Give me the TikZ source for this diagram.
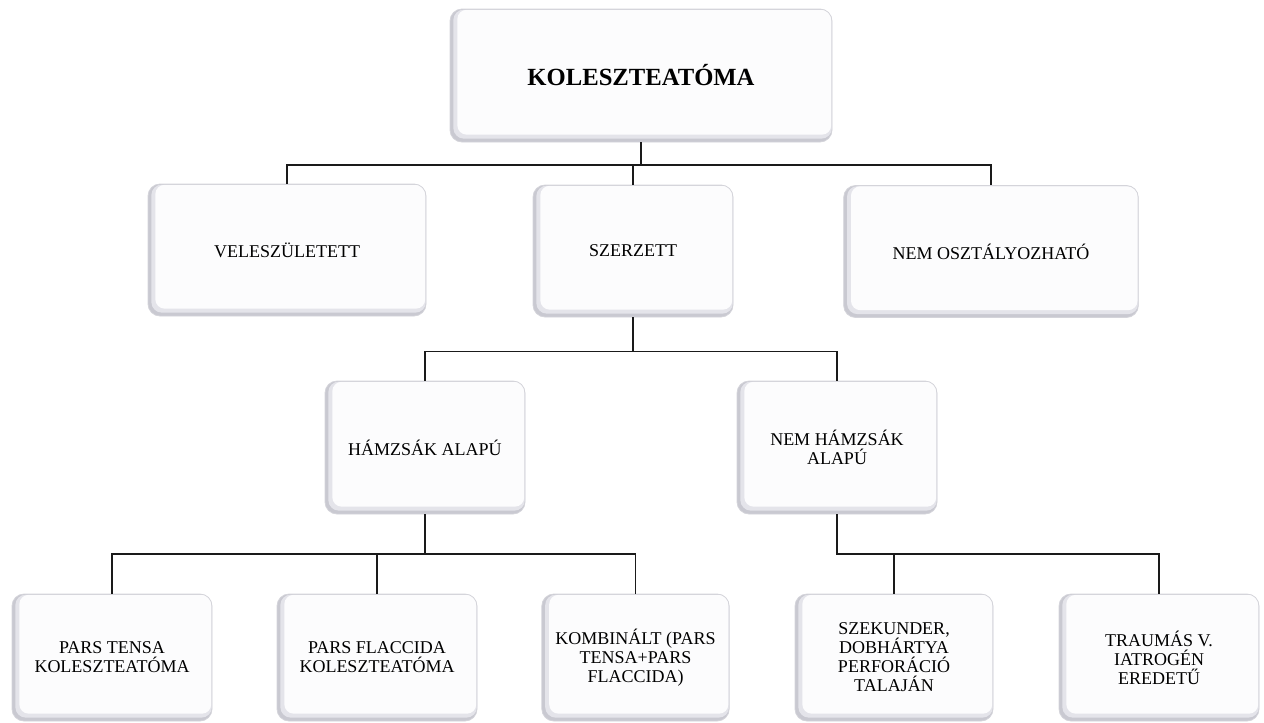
\documentclass[tikz,border=0pt]{standalone}
\usepackage{fontspec}
\setmainfont{Liberation Serif}
\definecolor{boxfill}{HTML}{FCFCFD}
\definecolor{boxmid}{HTML}{E4E4EA}
\definecolor{boxshade}{HTML}{C9C9D1}
\definecolor{boxline}{HTML}{D4D4DA}
\definecolor{linkcol}{HTML}{1A1A1A}
\tikzset{
  box/.style={draw=boxline, line width=0.6pt, rounded corners=9pt, fill=boxshade,
    align=center, inner sep=2pt, font=\fontsize{13.5}{14.3}\selectfont,
    path picture={
      \fill[boxmid, rounded corners=8pt] ([xshift=2.5pt,yshift=2.5pt]path picture bounding box.south west)
        rectangle ([yshift=-0.4pt]path picture bounding box.north east);
      \fill[boxfill, rounded corners=7pt] ([xshift=5.5pt,yshift=5.5pt]path picture bounding box.south west)
        rectangle ([xshift=-0.6pt,yshift=-0.6pt]path picture bounding box.north east);
    }},
  link/.style={draw=linkcol, line width=1.1pt},
}
\begin{document}
\begin{tikzpicture}[x=0.75pt, y=-0.75pt]
				\useasboundingbox (0,0) rectangle (1264,722);
				
				% 1. root
				\node[box, minimum width=286.5pt, minimum height=99.75pt,
				      font=\fontsize{18.5}{20}\selectfont\bfseries] (kol) at (641,75.5) {KOLESZTEATÓMA};
				
				% 2. second row
				\node[box, minimum width=208.5pt, minimum height=99pt] (vel) at (287,250) {VELESZÜLETETT};
				\node[box, minimum width=150pt, minimum height=99pt] (szer) at (633,251) {SZERZETT};
				\node[box, minimum width=221pt, minimum height=99pt] (nemo) at (991,251.5) {NEM OSZTÁLYOZHATÓ};
				
				% 3. third row
				\node[box, minimum width=150pt, minimum height=99.75pt] (ham) at (425,447.5) {HÁMZSÁK ALAPÚ};
				\node[box, minimum width=150pt, minimum height=99.75pt] (nemh) at (837,447.5) {NEM HÁMZSÁK\\ALAPÚ};
				
				% 4. bottom row
				\node[box, minimum width=150pt, minimum height=95.25pt] (tensa) at (112,657.5) {PARS TENSA\\KOLESZTEATÓMA};
				\node[box, minimum width=150pt, minimum height=95.25pt] (flacc) at (377,657.5) {PARS FLACCIDA\\KOLESZTEATÓMA};
				\node[box, minimum width=140.5pt, minimum height=95.25pt] (komb) at (635.5,657.5) {KOMBINÁLT (PARS\\TENSA+PARS\\FLACCIDA)};
				\node[box, minimum width=148.5pt, minimum height=95.25pt] (szek) at (894,657.5) {SZEKUNDER,\\DOBHÁRTYA\\PERFORÁCIÓ\\TALAJÁN};
				\node[box, minimum width=150pt, minimum height=95.25pt] (trau) at (1159,657.5) {TRAUMÁS V.\\IATROGÉN\\EREDETŰ};
				
				% 5. connectors
				\foreach \ch in {vel,szer,nemo}
				  \draw[link] (kol.south) -- ++(0,22.5) -| (\ch.north);
				\foreach \ch in {ham,nemh}
				  \draw[link] (szer.south) -- ++(0,34) -| (\ch.north);
				\foreach \ch in {tensa,flacc,komb}
				  \draw[link] (ham.south) -- ++(0,39.5) -| (\ch.north);
				\foreach \ch in {szek,trau}
				  \draw[link] (nemh.south) -- ++(0,39.5) -| (\ch.north);
			\end{tikzpicture}
\end{document}
